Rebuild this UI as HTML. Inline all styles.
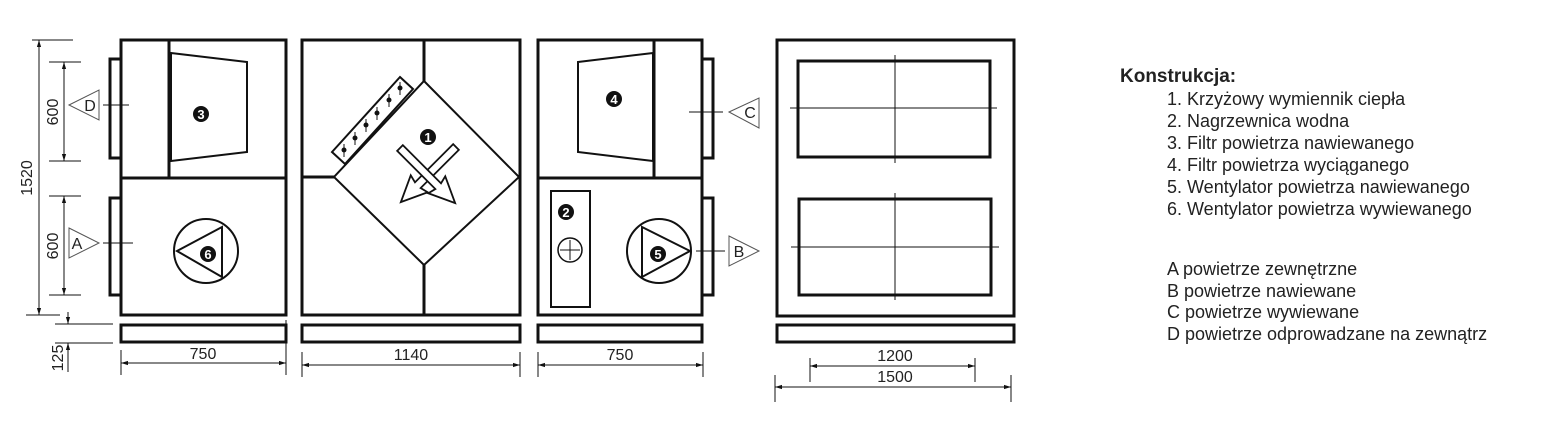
<!DOCTYPE html>
<html><head><meta charset="utf-8"><style>
html,body{margin:0;padding:0;background:#fff;}
svg{display:block;}
text{font-family:"Liberation Sans",Arial,sans-serif;fill:#222;}
</style></head><body>
<svg width="1553" height="435" viewBox="0 0 1553 435" xmlns="http://www.w3.org/2000/svg">
<defs>
<marker id="ar" viewBox="0 0 10 10" refX="10" refY="5" markerWidth="7" markerHeight="7" orient="auto-start-reverse"><path d="M0,2 L10,5 L0,8 z" fill="#111"/></marker>
</defs>
<g stroke="#111" fill="none">
<g stroke-width="3">
<rect x="121" y="40" width="165" height="275"/>
<line x1="121" y1="178" x2="286" y2="178"/>
<line x1="169" y1="40" x2="169" y2="178"/>
<rect x="110" y="59" width="11" height="99"/>
<rect x="110" y="198" width="11" height="97"/>
<rect x="121" y="325" width="165" height="17"/>
</g>
<polygon points="171,53 247,62 247,152 171,161" stroke-width="2"/>
<circle cx="206" cy="251" r="32" stroke-width="2"/>
<polygon points="177,251 222,227 222,277" stroke-width="2"/>
<g stroke-width="1">
<line x1="32" y1="40" x2="73" y2="40"/>
<line x1="26" y1="315" x2="60" y2="315"/>
<line x1="39" y1="40" x2="39" y2="315" marker-start="url(#ar)" marker-end="url(#ar)"/>
<line x1="49" y1="62" x2="81" y2="62"/>
<line x1="49" y1="161" x2="81" y2="161"/>
<line x1="64" y1="62" x2="64" y2="161" marker-start="url(#ar)" marker-end="url(#ar)"/>
<line x1="49" y1="196" x2="81" y2="196"/>
<line x1="49" y1="295" x2="81" y2="295"/>
<line x1="64" y1="196" x2="64" y2="295" marker-start="url(#ar)" marker-end="url(#ar)"/>
<line x1="55" y1="324" x2="113" y2="324"/>
<line x1="55" y1="343" x2="113" y2="343"/>
<line x1="68" y1="312" x2="68" y2="324" marker-end="url(#ar)"/>
<line x1="68" y1="372" x2="68" y2="343" marker-end="url(#ar)"/>
<line x1="121" y1="350" x2="121" y2="375"/>
<line x1="286" y1="320" x2="286" y2="375"/>
<line x1="121" y1="363" x2="286" y2="363" marker-start="url(#ar)" marker-end="url(#ar)"/>
<polygon points="69,105 99,90 99,120" stroke="#555"/>
<line x1="103" y1="105" x2="129" y2="105"/>
<polygon points="69,228 99,243 69,258" stroke="#555"/>
<line x1="103" y1="243" x2="133" y2="243"/>
</g>
<g stroke-width="3">
<rect x="302" y="40" width="218" height="275"/>
<rect x="302" y="325" width="218" height="17"/>
<line x1="424" y1="40" x2="424" y2="81"/>
<line x1="424" y1="265" x2="424" y2="315"/>
<line x1="302" y1="177" x2="334" y2="177"/>
</g>
<polygon points="424,81 519,177 424,265 334,177" stroke-width="2"/>
<polygon points="400,77 413,89 345,164 332,152" stroke-width="2"/>
<g stroke-width="1">
<line x1="344" y1="144" x2="344" y2="157"/><line x1="355" y1="132" x2="355" y2="145"/><line x1="366" y1="119" x2="366" y2="132"/><line x1="377" y1="107" x2="377" y2="120"/><line x1="389" y1="94" x2="389" y2="107"/><line x1="400" y1="82" x2="400" y2="95"/>
<line x1="302" y1="352" x2="302" y2="377"/><line x1="520" y1="352" x2="520" y2="377"/>
<line x1="302" y1="365" x2="520" y2="365" marker-start="url(#ar)" marker-end="url(#ar)"/>
</g>
<g fill="#111" stroke="none">
<circle cx="344" cy="150" r="2.5"/><circle cx="355" cy="138" r="2.5"/><circle cx="366" cy="125" r="2.5"/><circle cx="377" cy="113" r="2.5"/><circle cx="389" cy="100" r="2.5"/><circle cx="400" cy="88" r="2.5"/>
</g>
<g stroke-width="1.8" fill="#fff">
<polygon transform="translate(456,147) rotate(45)" points="-4,0 4,0 4,54 12,52 0,78 -12,52 -4,54"/>
<polygon transform="translate(400,148) rotate(-45)" points="-4,0 4,0 4,54 12,52 0,78 -12,52 -4,54"/>
</g>
<g stroke-width="3">
<rect x="538" y="40" width="164" height="275"/>
<line x1="538" y1="178" x2="702" y2="178"/>
<line x1="654" y1="40" x2="654" y2="178"/>
<rect x="702" y="59" width="11" height="99"/>
<rect x="702" y="198" width="11" height="97"/>
<rect x="538" y="325" width="164" height="17"/>
</g>
<polygon points="578,62 653,53 653,161 578,152" stroke-width="2"/>
<rect x="551" y="191" width="39" height="116" stroke-width="2"/>
<circle cx="570" cy="250" r="12" stroke-width="1.5"/>
<line x1="570" y1="240" x2="570" y2="260" stroke-width="1"/><line x1="560" y1="250" x2="580" y2="250" stroke-width="1"/>
<circle cx="659" cy="251" r="32" stroke-width="2"/>
<polygon points="642,227 690,251 642,277" stroke-width="2"/>
<g stroke-width="1">
<line x1="689" y1="112" x2="723" y2="112"/>
<polygon points="729,112 759,98 759,128" stroke="#555"/>
<line x1="696" y1="251" x2="725" y2="251"/>
<polygon points="729,236 759,251 729,266" stroke="#555"/>
<line x1="538" y1="352" x2="538" y2="377"/><line x1="703" y1="352" x2="703" y2="377"/>
<line x1="538" y1="365" x2="703" y2="365" marker-start="url(#ar)" marker-end="url(#ar)"/>
</g>
<g stroke-width="3">
<rect x="777" y="40" width="237" height="276"/>
<rect x="798" y="61" width="192" height="96"/>
<rect x="799" y="199" width="192" height="96"/>
<rect x="777" y="325" width="237" height="17"/>
</g>
<g stroke-width="1">
<line x1="895" y1="55" x2="895" y2="163"/><line x1="790" y1="108" x2="997" y2="108"/>
<line x1="895" y1="193" x2="895" y2="300"/><line x1="791" y1="247" x2="999" y2="247"/>
<line x1="810" y1="358" x2="810" y2="382"/><line x1="975" y1="358" x2="975" y2="382"/>
<line x1="810" y1="366" x2="975" y2="366" marker-start="url(#ar)" marker-end="url(#ar)"/>
<line x1="775" y1="375" x2="775" y2="402"/><line x1="1011" y1="375" x2="1011" y2="402"/>
<line x1="775" y1="387" x2="1011" y2="387" marker-start="url(#ar)" marker-end="url(#ar)"/>
</g>
</g>
<g font-size="16">
<text x="203" y="359" text-anchor="middle">750</text>
<text x="411" y="360" text-anchor="middle">1140</text>
<text x="620" y="360" text-anchor="middle">750</text>
<text x="895" y="361" text-anchor="middle">1200</text>
<text x="895" y="382" text-anchor="middle">1500</text>
<text transform="translate(32,178) rotate(-90)" text-anchor="middle">1520</text>
<text transform="translate(58,112) rotate(-90)" text-anchor="middle">600</text>
<text transform="translate(58,246) rotate(-90)" text-anchor="middle">600</text>
<text transform="translate(63,358) rotate(-90)" text-anchor="middle">125</text>
<text x="90" y="111" text-anchor="middle">D</text>
<text x="77" y="249" text-anchor="middle">A</text>
<text x="750" y="118" text-anchor="middle">C</text>
<text x="739" y="257" text-anchor="middle">B</text>
</g>
<g font-size="13" font-weight="bold">
<circle cx="201" cy="114" r="8" fill="#111"/><text x="201" y="119" text-anchor="middle" style="fill:#fff">3</text>
<circle cx="208" cy="254" r="8" fill="#111"/><text x="208" y="259" text-anchor="middle" style="fill:#fff">6</text>
<circle cx="428" cy="137" r="8" fill="#111"/><text x="428" y="142" text-anchor="middle" style="fill:#fff">1</text>
<circle cx="614" cy="99" r="8" fill="#111"/><text x="614" y="104" text-anchor="middle" style="fill:#fff">4</text>
<circle cx="566" cy="212" r="8" fill="#111"/><text x="566" y="217" text-anchor="middle" style="fill:#fff">2</text>
<circle cx="658" cy="254" r="8" fill="#111"/><text x="658" y="259" text-anchor="middle" style="fill:#fff">5</text>
</g>
<g font-size="18">
<text x="1120" y="82" font-weight="bold" font-size="19">Konstrukcja:</text>
<text x="1167" y="105">1. Krzyżowy wymiennik ciepła</text>
<text x="1167" y="127">2. Nagrzewnica wodna</text>
<text x="1167" y="149">3. Filtr powietrza nawiewanego</text>
<text x="1167" y="171">4. Filtr powietrza wyciąganego</text>
<text x="1167" y="193">5. Wentylator powietrza nawiewanego</text>
<text x="1167" y="215">6. Wentylator powietrza wywiewanego</text>
<text x="1167" y="275">A powietrze zewnętrzne</text>
<text x="1167" y="297">B powietrze nawiewane</text>
<text x="1167" y="318">C powietrze wywiewane</text>
<text x="1167" y="340">D powietrze odprowadzane na zewnątrz</text>
</g>
</svg>
</body></html>
